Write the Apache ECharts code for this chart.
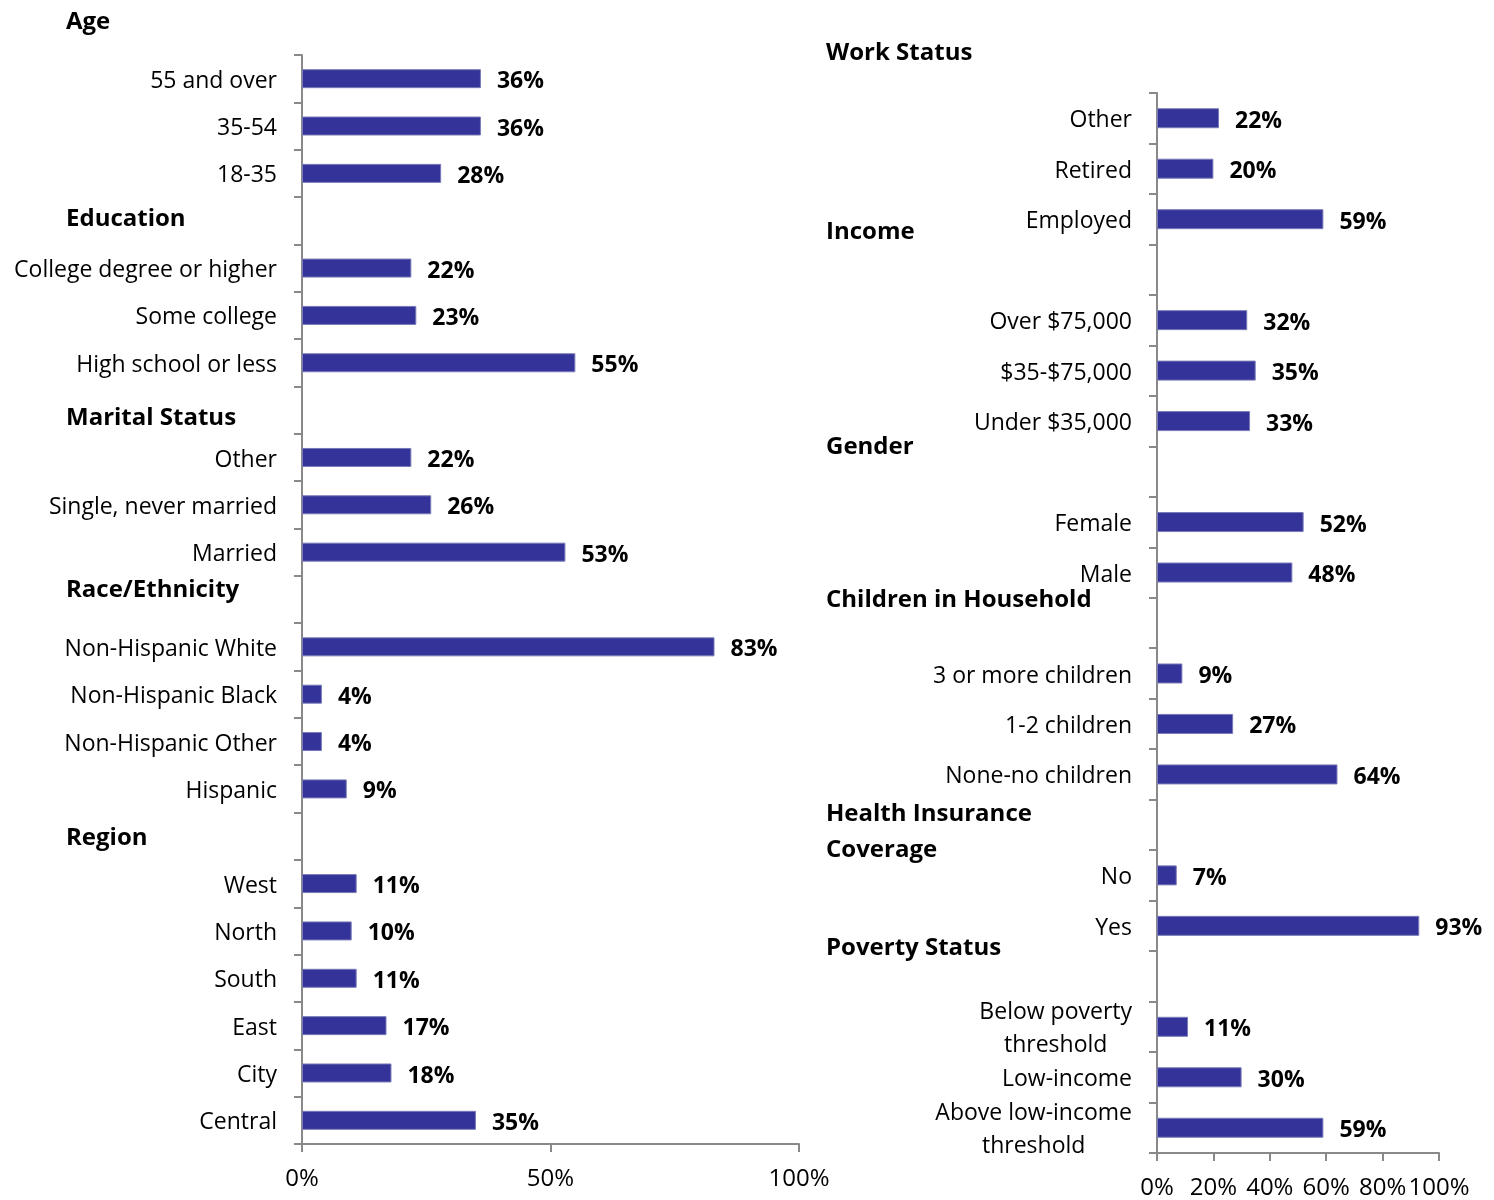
<!DOCTYPE html>
<html>
<head>
<meta charset="utf-8">
<title>Demographics</title>
<script src="https://cdn.jsdelivr.net/npm/echarts@6/dist/echarts.min.js"></script>
<style>
  html, body { margin: 0; padding: 0; background: #fff; }
  #chart { width: 1494px; height: 1200px; }
</style>
</head>
<body>
<div id="chart"></div>
<script>
// left panel, top to bottom ('' = empty row under a group heading)
const leftCategories = [
  '55 and over', '35-54', '18-35', '',
  'College degree or higher', 'Some college', 'High school or less', '',
  'Other', 'Single, never married', 'Married', '',
  'Non-Hispanic White', 'Non-Hispanic Black', 'Non-Hispanic Other', 'Hispanic', '',
  'West', 'North', 'South', 'East', 'City', 'Central'
]
const leftValues = [36, 36, 28, '-', 22, 23, 55, '-', 22, 26, 53, '-', 83, 4, 4, 9, '-', 11, 10, 11, 17, 18, 35]
const leftHeaders = ['Age', 'Education', 'Marital Status', 'Race/Ethnicity', 'Region']

// right panel
const rightCategories = [
  'Other', 'Retired', 'Employed', '',
  'Over $75,000', '$35-$75,000', 'Under $35,000', '',
  'Female', 'Male', '',
  '3 or more children', '1-2 children', 'None-no children', '',
  'No', 'Yes', '',
  'Below poverty\nthreshold', 'Low-income', 'Above low-income\nthreshold'
]
const rightValues = [22, 20, 59, '-', 32, 35, 33, '-', 52, 48, '-', 9, 27, 64, '-', 7, 93, '-', 11, 30, 59]
const rightHeaders = ['Work Status', 'Income', 'Gender', 'Children in Household', 'Health Insurance\nCoverage', 'Poverty Status']

const leftTicks = [0, 50, 100]
const rightTicks = [0, 20, 40, 60, 80, 100]

const FONT = '"Open Sans", "Noto Sans", sans-serif'
const axisGray = '#898989'

const chart = echarts.init(document.getElementById('chart'))

const valueAxis = (gridIndex, ticks) => ({
  type: 'value',
  gridIndex,
  min: ticks[0],
  max: ticks[ticks.length - 1],
  interval: ticks[1] - ticks[0],
  axisLine: { show: true, lineStyle: { color: axisGray, width: 2 } },
  axisTick: { show: true, length: 8, lineStyle: { color: axisGray, width: 2 } },
  splitLine: { show: false },
  axisLabel: {
    color: '#000',
    fontFamily: FONT,
    fontSize: 24,
    margin: 23,
    formatter: v => v + '%'
  }
})

const categoryAxis = (gridIndex, data) => ({
  type: 'category',
  gridIndex,
  data,
  inverse: true,
  axisLine: { show: true, lineStyle: { color: axisGray, width: 2 } },
  axisTick: { show: true, length: 8, lineStyle: { color: axisGray, width: 2 } },
  axisLabel: {
    color: '#000',
    fontFamily: FONT,
    fontSize: 23,
    lineHeight: 33,
    margin: 25,
    padding: [5, 0, 0, 0],
    align: 'right',
    interval: 0,
    // two-line labels are centred on each other, block stays right-aligned
    formatter: v => v.indexOf('\n') < 0 ? v : v.split('\n').map(s => '{c|' + s + '}').join('\n'),
    rich: {
      c: { align: 'center', fontFamily: FONT, fontSize: 23, lineHeight: 33, color: '#000' }
    }
  }
})

const barSeries = (index, data, width) => ({
  type: 'bar',
  xAxisIndex: index,
  yAxisIndex: index,
  data,
  barWidth: width,
  itemStyle: { color: '#333399', borderColor: '#7a7ab8', borderWidth: 1 },
  label: {
    show: true,
    position: 'right',
    distance: 16,
    offset: [0, 3],
    color: '#000',
    fontFamily: FONT,
    fontWeight: 'bold',
    fontSize: 23,
    formatter: p => p.value + '%'
  },
  silent: true
})

// group headings sit in the label column
const leftHeaderY = [22, 219, 418, 590, 838]
const rightHeaderY = [53, 232, 447, 600, 832, 948]
const heading = (text, x, y) => ({
  type: 'text',
  x,
  y,
  style: {
    text,
    fill: '#000',
    font: 'bold 24px ' + FONT,
    verticalAlign: 'middle',
    lineHeight: 36
  }
})

const option = {
  animation: false,
  grid: [
    { left: 302, top: 55, width: 497, height: 1089 },
    { left: 1157, top: 93, width: 282, height: 1063 }
  ],
  xAxis: [valueAxis(0, leftTicks), valueAxis(1, rightTicks)],
  yAxis: [categoryAxis(0, leftCategories), categoryAxis(1, rightCategories)],
  series: [barSeries(0, leftValues, 19), barSeries(1, rightValues, 20)],
  graphic: [
    ...leftHeaders.map((t, i) => heading(t, 66, leftHeaderY[i])),
    ...rightHeaders.map((t, i) => heading(t, 826, rightHeaderY[i]))
  ]
}

chart.setOption(option)
</script>
</body>
</html>
